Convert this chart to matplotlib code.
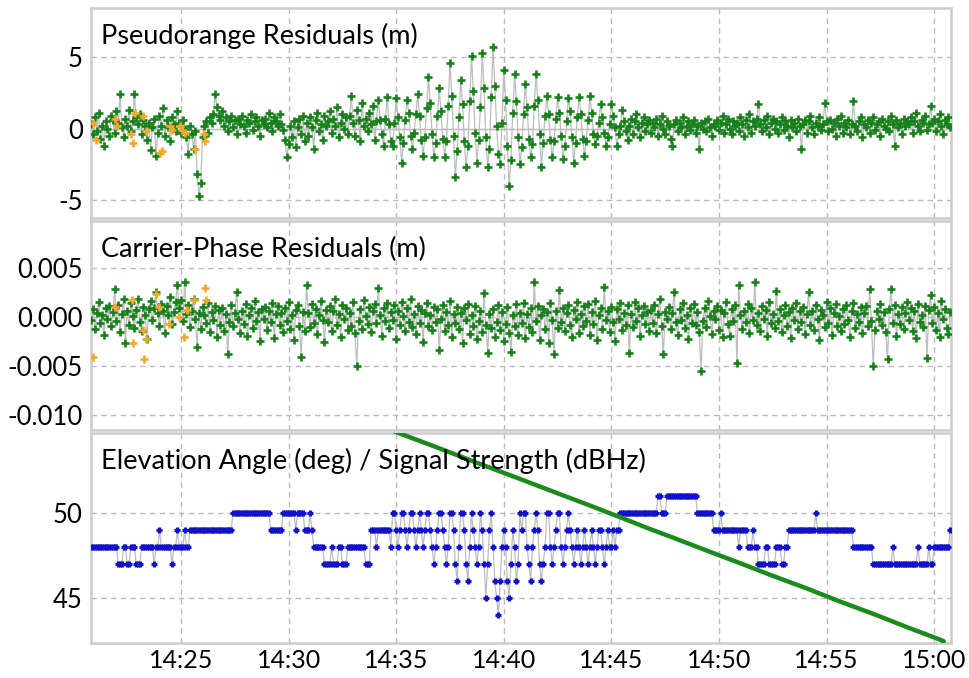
import numpy as np
import matplotlib
matplotlib.use("Agg")
from matplotlib import pyplot as plt
from matplotlib.ticker import FuncFormatter, FixedLocator

plt.rcParams['font.family'] = ['Lato', 'DejaVu Sans']

# sampling: every 5 s from 14:20:50, times in minutes after 14:00
t0_min = 20 + 50 / 60
dt_min = 5 / 60

# pseudorange residuals (m), one row per minute
pseudorange = [
    0.3, -0.4, 0.8, -0.2, 1.1, -0.7, 0.2, -1.2, 0.5, 0.0, -0.5, 0.9,
    0.6, -0.3, 1.2, 0.4, 2.4, 0.1, -0.6, 0.7, 0.2, 1.3, -0.2, 0.5,
    2.4, 0.8, 0.3, 1.0, -0.4, 0.6, 0.2, -0.8, 0.4, -1.5, 0.1, 0.7,
    -1.9, -0.3, 0.9, 0.2, 1.4, -0.5, 0.6, 0.1, -0.9, 0.8, 0.3, -0.2,
    1.2, 0.4, -0.3, 0.6, 0.0, -0.6, -1.8, 0.2, -0.4, -1.4, -0.2, -3.2,
    -4.7, -3.8, -0.6, 0.2, 0.5, -0.3, 0.8, 0.4, 1.0, 2.4, 1.5, 0.9,
    0.6, 1.2, 0.2, 0.8, -0.2, 0.5, 0.9, 0.1, 0.6, -0.4, 0.7, 0.3,
    0.9, 0.2, -0.3, 0.6, 0.4, 1.0, -0.1, 0.5, 0.8, 0.2, -0.5, 0.6,
    0.3, 0.7, 0.1, 1.1, 0.4, -0.2, 0.8, 0.5, 0.2, 1.0, 0.3, -0.1,
    -0.8, -2.0, -1.1, 0.2, -0.6, 0.5, -1.3, 0.1, 0.7, -0.4, 0.9, -0.9,
    0.4, -0.5, 0.8, 0.1, -1.4, 0.6, 1.1, -0.2, 0.3, -0.8, 0.9, 0.2,
    0.5, 1.2, -0.3, 0.7, 0.2, 1.5, -0.6, 0.4, 1.0, 0.0, 0.8, -0.4,
    0.9, 2.3, 0.4, -0.5, 1.3, 0.6, -0.9, 1.8, 0.2, 0.7, -0.2, 1.1,
    0.3, 1.6, -0.8, 0.5, 2.0, 0.6, -0.4, -1.2, 0.7, 2.2, 0.3, -0.9,
    -1.2, 0.4, 2.1, 0.8, -0.6, -2.4, -1.0, 0.6, 2.0, 1.1, -0.5, -1.4,
    -0.3, 1.0, 2.4, 0.9, -0.8, -1.9, -0.6, 1.4, 3.6, 1.8, -0.4, -2.0,
    -1.0, 0.9, 2.8, 1.2, -0.7, -2.0, -0.9, 1.6, 4.6, 2.3, -0.5, -3.4,
    -1.6, 0.8, 3.4, 1.7, -0.9, -2.7, -1.2, 1.9, 5.1, 2.6, -0.3, -2.4,
    -0.8, 1.5, 5.3, 2.8, -0.6, -2.7, -1.4, 2.2, 5.7, 3.0, 0.2, -1.8,
    -2.5, 0.4, 4.1, 2.0, -1.2, -4.0, -2.2, 1.1, 3.8, 1.9, -0.6, -2.5,
    -1.3, 1.0, 3.1, 1.5, -0.7, -2.0, -1.1, 1.6, 3.8, 2.0, -0.4, -2.7,
    -1.0, 0.9, 2.3, 1.0, -0.8, -2.0, -0.9, 0.7, 2.2, 1.1, -0.5, -2.1,
    -1.2, 0.5, 2.1, 1.2, -0.6, -2.4, -1.0, 0.8, 2.2, 1.0, -0.7, -1.9,
    -0.9, 0.6, 2.3, 1.1, -0.4, -1.1, -0.5, 0.4, 1.7, 0.8, -0.3, -1.2,
    -0.6, 0.3, 1.7, 0.9, 0.1, -1.2, -0.4, 0.2, 1.3, 0.5, -0.2, -0.8,
    0.2, 0.7, -0.4, 0.5, 1.0, 0.1, -0.6, 0.4, 0.8, -0.2, 0.3, 0.6,
    -0.3, 0.4, 0.1, 0.7, -0.5, 0.3, 0.9, 0.0, -0.4, 0.5, 0.2, -0.7,
    -1.2, 0.3, 0.6, -0.2, 0.4, 0.1, 0.8, -0.4, 0.2, 0.5, -0.1, 0.3,
    0.6, -0.3, 0.2, -1.4, 0.4, 0.0, 0.5, -0.2, 0.7, 0.1, -0.5, 0.3,
    0.2, 0.6, -0.1, 0.4, 0.9, -0.3, 0.3, 0.7, 0.0, -0.4, 0.5, 0.2,
    0.4, -0.2, 0.8, 0.3, -0.5, 0.6, 0.1, 1.0, -0.3, 0.5, 0.2, 0.7,
    1.7, 0.3, -0.2, 0.6, 0.1, 0.9, -0.4, 0.4, 0.7, 0.0, 0.5, -0.3,
    0.3, 0.8, -0.1, 0.5, 0.2, -0.6, 0.6, 0.1, 0.4, -0.2, 0.7, 0.2,
    -1.4, 0.3, 0.6, -0.3, 0.5, 0.9, 0.1, -0.4, 0.4, 0.2, 0.8, -0.1,
    0.3, 1.8, 0.5, -0.2, 0.6, 0.0, 0.4, -0.5, 0.7, 0.2, 0.9, -0.3,
    0.4, 0.1, 0.6, -0.4, 0.3, 1.9, 0.2, -0.2, 0.5, 0.8, -0.6, 0.3,
    0.1, 0.6, -0.3, 0.4, 0.8, -0.1, 0.3, 0.5, -0.5, 0.7, 0.2, 0.0,
    0.5, -0.2, 0.9, 0.3, -1.2, 0.6, 0.1, 0.4, -0.4, 0.7, 0.2, 0.5,
    0.3, 0.8, -0.3, 0.5, 1.1, 0.2, -0.2, 0.6, 0.4, 0.9, -0.1, 0.3,
    1.6, 0.4, 0.7, -0.2, 0.5, 1.0, 0.2, -0.4, 0.6, 0.3, 0.8, 0.1,
]

# carrier-phase residuals (mm), one row per minute
carrier_mm = [
    -0.3, 0.8, -1.2, 0.4, 1.5, -0.6, 0.2, -1.8, 0.9, -0.2, 1.1, -0.9,
    0.5, 2.9, -0.4, 1.2, -1.5, 0.3, 1.8, -2.6, 0.6, -0.8, 1.4, 0.1,
    -1.1, 0.7, 1.9, -0.5, -1.4, 1.0, 0.2, -2.2, 0.8, 1.6, -0.3, 0.9,
    2.6, 0.4, -0.9, 1.3, 0.6, -1.6, 1.1, 0.2, 2.1, -0.7, 0.5, 1.5,
    3.3, 0.9, 1.7, -0.4, 3.6, 0.3, 1.2, -1.0, 0.6, 1.9, -0.2, -3.0,
    0.4, -1.2, 1.0, 0.2, -0.6, 1.4, -1.5, 0.5, -0.3, 1.1, -2.0, 0.7,
    -0.8, 0.9, -1.4, 0.3, -3.8, -0.5, 1.2, -0.9, 0.4, 2.6, -0.2, -1.6,
    0.6, -0.7, 1.3, -1.9, 0.2, 0.9, -1.1, 1.6, -0.4, 0.5, -2.4, 0.8,
    -0.2, 1.0, -1.3, 0.6, -0.5, 1.4, -2.1, 0.3, 1.1, -0.8, 0.4, -1.5,
    0.9, -0.4, 1.5, -1.2, 0.2, -2.3, 0.7, 1.2, -0.9, -4.1, 0.5, -1.4,
    3.3, 0.4, -1.0, 1.3, -0.6, 0.8, -1.7, 0.2, 1.6, -0.3, -2.5, 0.7,
    -0.5, 1.1, -1.4, 0.6, 1.8, -0.8, 0.3, -2.0, 1.2, -0.2, 0.9, -1.3,
    0.4, -0.9, 1.5, -1.6, -5.0, -0.4, 0.8, -1.2, 1.7, 0.1, -0.7, 1.0,
    -1.5, 0.6, 1.3, -0.6, 3.0, 0.2, -1.9, 0.9, -0.4, 1.4, -1.1, 0.5,
    -0.3, 1.2, -2.2, 0.6, -0.8, 1.5, 0.1, -1.4, 0.9, -0.5, 1.8, -1.0,
    0.3, -1.7, 1.1, -0.6, 0.7, -2.5, 0.4, 1.4, -0.9, 0.2, -1.3, 1.0,
    -0.5, 0.8, -3.3, -0.2, 1.2, -1.4, 0.5, -0.8, 1.6, -2.0, 0.3, -0.6,
    1.0, -1.2, 0.4, -2.6, 0.9, -0.3, 1.3, -1.7, 0.2, -0.9, 1.1, -2.2,
    -0.4, 0.6, -1.5, 2.5, -0.8, -3.7, 0.3, -1.1, 0.8, -2.0, -0.5, 1.2,
    -1.3, 0.5, -2.4, -0.7, 1.0, -1.6, -3.5, 0.2, -0.9, 1.3, -1.8, 0.4,
    -0.6, 1.4, -2.1, 0.3, -1.0, 0.9, -1.5, 3.6, -0.4, 1.1, -2.3, 0.2,
    0.8, -1.2, 0.5, -2.6, 1.4, -0.3, -3.8, 0.6, -1.1, 2.8, -0.5, 0.9,
    -1.4, 0.4, 1.2, -0.8, -2.0, 0.7, -0.2, 1.5, -1.6, 0.3, -0.9, 1.1,
    -0.4, 1.3, -1.8, 0.5, -0.7, 1.6, -2.3, 0.2, 0.9, -1.2, 3.1, -0.3,
    0.6, -1.5, 1.0, -0.5, -2.4, 0.8, -0.2, 1.4, -1.3, 0.4, -0.8, 1.2,
    -3.7, 0.3, -1.0, 1.5, -0.4, 0.9, -1.9, 0.2, 1.1, -0.7, 0.5, -1.4,
    0.7, -0.6, 1.2, -1.6, 0.3, 1.8, -0.9, -3.8, 0.5, -0.2, 1.0, -1.2,
    0.4, 2.6, -0.5, -1.8, 0.8, -0.3, 1.4, -1.1, 0.2, -2.2, 0.9, -0.6,
    1.3, -0.8, 0.5, -1.5, -5.5, -0.4, 0.9, -1.0, 1.6, 0.1, -1.7, 0.6,
    -0.2, 1.1, -1.3, 0.7, -2.0, 0.4, 1.5, -0.7, -1.9, 0.8, -0.4, 1.2,
    -4.7, 3.3, 0.2, -1.2, 0.6, -0.5, 1.3, -1.6, 0.9, -0.3, 3.6, -0.8,
    0.4, -1.4, 1.1, -0.2, 0.7, -1.9, 1.5, -0.6, 0.3, -1.1, 2.7, -0.4,
    0.8, -1.5, 0.2, 1.2, -0.9, 0.5, -2.1, 0.9, -0.3, 1.4, -1.2, 0.6,
    -0.5, 1.0, -1.7, 0.3, 2.6, -0.8, 0.6, -1.3, 1.2, -0.2, -2.3, 0.7,
    0.2, -1.0, 1.5, -0.6, 0.9, -1.8, 0.4, 1.3, -0.9, 0.1, -1.4, 0.8,
    -0.7, 1.2, -0.3, -2.0, 0.6, 1.4, -1.1, 0.3, -0.5, 1.0, -1.6, 0.4,
    1.1, -0.9, 2.9, -0.4, -5.0, -1.3, 0.6, -0.2, 1.3, -0.8, 0.5, -1.5,
    -4.3, 0.8, 2.9, -0.6, 1.2, -1.9, 0.3, -0.7, 1.0, -1.2, 0.4, 1.5,
    -0.3, 0.9, -1.4, 0.6, -2.1, 1.3, -0.5, 0.2, -1.0, 1.1, -4.2, 0.7,
    2.3, -0.6, 1.0, -1.3, 0.4, -2.0, 1.6, -0.2, 0.8, -1.1, -1.7, 0.5,
]

# flagged (orange) samples near the start: minutes after 14:00
pr_flag_t = [20.91, 21.05, 21.93, 22.03, 22.68, 22.77, 22.86, 23.23, 23.37,
             24.02, 24.12, 24.49, 24.58, 24.95, 25.05, 25.19, 25.65, 26.07, 26.12]
pr_flag_v = [0.4, -0.8, 0.7, 0.2, -0.4, -1.0, 1.1, 0.9, -0.2,
             -1.7, -1.6, 0.2, -0.1, 0.2, -0.1, -0.3, -1.4, -0.4, -0.9]
cp_flag_t = [20.91, 21.93, 22.72, 22.77, 23.23, 23.28, 23.37, 23.84, 23.98,
             24.42, 24.91, 25.14, 25.28, 25.60, 26.12, 26.17]
cp_flag_mm = [-4.1, 1.0, 1.7, -2.6, -1.3, -4.3, -2.2, 2.4, 1.0,
              -0.7, 0.0, -2.0, 0.7, 1.7, 3.0, 1.7]

# signal strength (dBHz), one row per minute
signal = [
    48, 48, 48, 48, 48, 48, 48, 48, 48, 48, 48, 48,
    48, 48, 48, 47, 47, 47, 48, 48, 47, 47, 48, 48,
    48, 47, 47, 47, 48, 48, 48, 48, 48, 48, 48, 47,
    48, 48, 49, 48, 48, 48, 48, 48, 48, 47, 48, 48,
    49, 48, 48, 48, 49, 48, 48, 49, 49, 49, 49, 49,
    49, 49, 49, 49, 49, 49, 49, 49, 49, 49, 49, 49,
    49, 49, 49, 49, 49, 49, 49, 50, 50, 50, 50, 50,
    50, 50, 50, 50, 50, 50, 50, 50, 50, 50, 50, 50,
    50, 50, 50, 50, 49, 49, 49, 49, 49, 49, 49, 50,
    50, 50, 50, 50, 50, 50, 49, 50, 50, 50, 50, 49,
    49, 49, 50, 49, 48, 48, 48, 48, 48, 48, 47, 47,
    47, 47, 48, 47, 47, 47, 48, 48, 47, 47, 47, 48,
    48, 48, 48, 48, 48, 48, 48, 48, 48, 47, 47, 47,
    49, 49, 49, 48, 49, 49, 49, 49, 49, 49, 49, 48,
    50, 50, 49, 48, 49, 50, 50, 49, 48, 49, 50, 50,
    49, 48, 49, 50, 49, 48, 49, 50, 50, 49, 48, 47,
    48, 49, 50, 50, 49, 48, 47, 48, 50, 50, 49, 47,
    46, 48, 50, 50, 49, 47, 46, 48, 50, 49, 48, 47,
    48, 50, 49, 47, 45, 47, 49, 50, 48, 46, 45, 44,
    46, 48, 49, 48, 46, 45, 47, 49, 48, 46, 47, 50,
    49, 50, 50, 48, 47, 46, 48, 49, 50, 49, 47, 46,
    47, 48, 50, 50, 48, 47, 48, 49, 50, 50, 48, 47,
    48, 49, 50, 49, 48, 47, 48, 49, 48, 47, 48, 49,
    48, 47, 48, 49, 48, 47, 48, 49, 49, 48, 47, 48,
    49, 48, 48, 49, 48, 49, 49, 50, 50, 50, 50, 50,
    50, 50, 50, 50, 50, 50, 50, 50, 50, 50, 50, 50,
    50, 50, 50, 50, 51, 51, 50, 50, 50, 51, 51, 51,
    51, 51, 51, 51, 51, 51, 51, 51, 51, 51, 51, 51,
    51, 51, 50, 50, 50, 50, 50, 50, 50, 50, 50, 49,
    49, 49, 49, 50, 49, 49, 49, 49, 49, 49, 49, 49,
    49, 48, 49, 49, 49, 49, 48, 48, 48, 49, 48, 48,
    47, 47, 47, 47, 48, 48, 47, 47, 47, 47, 48, 48,
    48, 47, 47, 48, 48, 49, 49, 49, 49, 49, 49, 49,
    49, 49, 49, 49, 49, 49, 49, 49, 50, 49, 49, 49,
    49, 49, 49, 49, 49, 49, 49, 49, 49, 49, 49, 49,
    49, 49, 49, 49, 49, 48, 48, 48, 48, 48, 48, 48,
    48, 48, 48, 48, 47, 47, 47, 47, 47, 47, 47, 47,
    47, 47, 47, 48, 47, 47, 47, 47, 47, 47, 47, 47,
    47, 47, 47, 47, 47, 48, 47, 47, 47, 47, 47, 48,
    47, 47, 48, 48, 48, 48, 48, 48, 48, 48, 48, 49,
]

# elevation angle (deg)
elev_t = [34.9, 36.9, 38.75, 40.75, 42.3, 43.87, 45.4, 46.8, 47.86,
          49.4, 50.97, 52.5, 54.1, 55.6, 57.2, 58.7, 60.27, 60.45]
elev_v = [54.8, 53.85, 52.95, 52.0, 51.25, 50.5, 49.75, 49.05, 48.55,
          47.8, 47.05, 46.3, 45.55, 44.8, 44.05, 43.3, 42.55, 42.45]

t = t0_min + dt_min * np.arange(len(pseudorange))

GREEN = "#17801a"
ORANGE = "#f2a92a"
BLUE = "#1212c8"
LINE = "#bdbdbd"
FRAME = "#cccccc"

fig = plt.figure(figsize=(9.69, 6.78), dpi=100)
left, width = 91 / 969, 860 / 969
ax1 = fig.add_axes([left, 1 - 218 / 678, width, 210 / 678])
ax2 = fig.add_axes([left, 1 - 430 / 678, width, 209 / 678])
ax3 = fig.add_axes([left, 1 - 643 / 678, width, 210 / 678])

x_min, x_max = 20 + 49 / 60, 60 + 47 / 60


def style(ax, yticks, ylabels, title):
    ax.set_xlim(x_min, x_max)
    ax.xaxis.set_major_locator(FixedLocator([25, 30, 35, 40, 45, 50, 55, 60]))
    ax.set_yticks(yticks)
    ax.set_yticklabels(ylabels)
    ax.grid(True, color="#bcbcbc", linestyle=(0, (4, 3)), linewidth=1.0)
    ax.set_axisbelow(True)
    ax.tick_params(length=0, labelsize=18.5, pad=6)
    for s in ax.spines.values():
        s.set_color(FRAME)
        s.set_linewidth(1.8)
    ax.text(0.012, 0.865, title, transform=ax.transAxes, fontsize=19.5,
            va="center", ha="left", zorder=5)


mk = dict(ls="none", marker="+", ms=6, mew=1.9)

# pseudorange panel
ax1.axhline(0, color=LINE, lw=1.0, zorder=1)
ax1.plot(t, pseudorange, color=LINE, lw=0.9, zorder=2)
ax1.plot(t, pseudorange, color=GREEN, zorder=3, **mk)
ax1.plot(pr_flag_t, pr_flag_v, color=ORANGE, zorder=4, **mk)
ax1.set_ylim(-6.26, 8.43)
style(ax1, [-5, 0, 5], ["-5", "0", "5"], "Pseudorange Residuals (m)")
ax1.tick_params(axis="x", labelbottom=False)

# carrier-phase panel
cp = np.array(carrier_mm) / 1000.0
ax2.plot(t, cp, color=LINE, lw=0.9, zorder=2)
ax2.plot(t, cp, color=GREEN, zorder=3, **mk)
ax2.plot(cp_flag_t, np.array(cp_flag_mm) / 1000.0, color=ORANGE, zorder=4, **mk)
ax2.set_ylim(-0.0115, 0.0098)
style(ax2, [-0.010, -0.005, 0.0, 0.005],
      ["-0.010", "-0.005", "0.000", "0.005"], "Carrier-Phase Residuals (m)")
ax2.tick_params(axis="x", labelbottom=False)

# elevation / signal strength panel
ax3.plot(t, signal, color=LINE, lw=0.9, zorder=2)
ax3.plot(t, signal, ls="none", marker="+", ms=4.5, mew=2.3, color=BLUE, zorder=3)
ax3.plot(elev_t, elev_v, color="#1d8a1d", lw=3.2, solid_capstyle="round", zorder=4)
ax3.set_ylim(42.35, 54.7)
style(ax3, [45, 50], ["45", "50"], "Elevation Angle (deg) / Signal Strength (dBHz)")
ax3.xaxis.set_major_formatter(FuncFormatter(lambda v, p: f"{14 + int(round(v)) // 60}:{int(round(v)) % 60:02d}"))
ax3.tick_params(axis="x", pad=4, labelsize=18)

fig.savefig("out.png", dpi=100)
plt.close(fig)
